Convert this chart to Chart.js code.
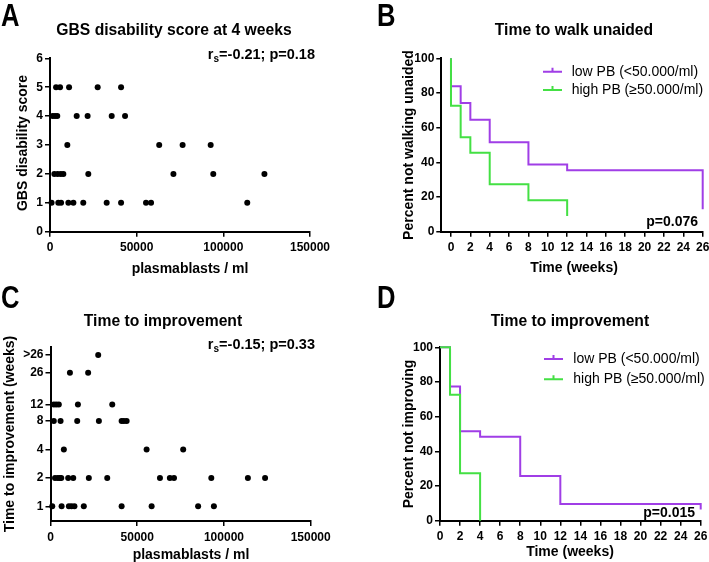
<!DOCTYPE html>
<html><head><meta charset="utf-8">
<script src="https://cdn.jsdelivr.net/npm/chart.js@4"></script>
<style>
html,body{margin:0;padding:0;background:#fff;}
#wrap{position:relative;width:709px;height:562px;overflow:hidden;}
canvas{position:absolute;left:0;top:0;width:709px;height:562px;}
</style></head><body>
<div id="wrap">
<canvas id="cA" width="709" height="562"></canvas>
<canvas id="cB" width="709" height="562"></canvas>
<canvas id="cC" width="709" height="562"></canvas>
<canvas id="cD" width="709" height="562"></canvas>
</div>
<script>
// ---------- data ----------
// Panel A: GBS disability score at 4 weeks vs plasmablasts/ml
const aPlasmablasts = [3500,5800,11000,27500,41000, 1500,2900,4200,15400,21700,35600,43300, 10000,63000,76500,92700, 2500,4400,6200,7700,22100,71200,94200,123700, 900,4800,6400,10600,13500,19200,32700,41000,55400,58300,113800];
const aScore        = [5,5,5,5,5, 4,4,4,4,4,4,4, 3,3,3,3, 2,2,2,2,2,2,2,2, 1,1,1,1,1,1,1,1,1,1,1];
const aXTicks = [0,50000,100000,150000];
const aYTicks = [0,1,2,3,4,5,6];

// Panel C: time to improvement (weeks) vs plasmablasts/ml  (">26" plotted at 40)
const cPlasmablasts = [27500, 11200,21700, 1900,3300,4800,15800,35600, 1900,5800,15400,27900,41000,42300,43900, 7700,55400,76500, 2600,4200,5400,6200,10200,13100,22100,32700,63100,68800,71200,92700,113800,123700, 1000,6400,10600,12100,13800,19200,41000,58300,85100,94200];
const cWeeks        = [40, 26,26, 12,12,12,12,12, 8,8,8,8,8,8,8, 4,4,4, 2,2,2,2,2,2,2,2,2,2,2,2,2,2, 1,1,1,1,1,1,1,1,1,1];
const cYTickValues = [1,2,4,8,12,26,40];
const cYTickLabels = ['1','2','4','8','12','26','>26'];

// Panels B and D: Kaplan-Meier curves
const weekTicks = [0,2,4,6,8,10,12,14,16,18,20,22,24,26];
const pctTicks = [0,20,40,60,80,100];
const legendLabels = ['low PB (<50.000/ml)', 'high PB (\u226550.000/ml)'];
const bLowTime  = [0,0,1,2,4,8,12,26];
const bLowPct   = [100,83.9,74.2,64.5,51.6,38.7,35.5,12.9];
const bHighTime = [0,0,1,2,4,8,12];
const bHighPct  = [100,72.7,54.5,45.5,27.3,18.2,9.1];
const dLowTime  = [0,1,2,4,8,12,26];
const dLowPct   = [100,77.4,51.6,48.4,25.8,9.7,6.5];
const dHighTime = [0,1,2,4];
const dHighPct  = [100,72.7,27.3,0];

// ---------- style ----------
const FF = '"Liberation Sans", Arial, Helvetica, sans-serif';
const PURPLE = '#a03ee6';
const GREEN = '#44e044';
Chart.defaults.font.family = FF;
Chart.defaults.color = '#000';
Chart.defaults.animation = false;
const W = 709, H = 562, YW = 40, XH = 30;

function pts(xs, ys){ return xs.map((x,i)=>({x:x, y:ys[i]})); }

function axis(type, min, max, tickVals, isX, labelFn){
  return {
    type: type, min: min, max: max, offset: false,
    border: {display: true, color: '#000', width: 2},
    grid: {display: true, drawOnChartArea: false, drawTicks: true, tickLength: 5, color: '#000', lineWidth: 1.5},
    ticks: {color: '#000', font: {size: 12, weight: 'bold', family: FF}, padding: isX ? 4 : 2,
            maxRotation: 0, minRotation: 0, autoSkip: false,
            callback: labelFn || function(v){ return String(v); }},
    afterBuildTicks: function(s){ s.ticks = tickVals.map(v=>({value: v})); },
    afterFit: function(s){
      if (isX) s.height = XH; else s.width = YW;
      s.paddingLeft = 0; s.paddingRight = 0; s.paddingTop = 0; s.paddingBottom = 0;
    }
  };
}

function padFor(l, t, r, b){
  return {left: l - YW, top: t, right: W - r, bottom: H - b - XH};
}

function txt(ctx, s, x, y, font, align, rot){
  ctx.save();
  ctx.fillStyle = '#000';
  ctx.font = font;
  ctx.textAlign = align || 'center';
  ctx.textBaseline = 'middle';
  ctx.translate(x, y);
  if (rot) ctx.rotate(rot);
  ctx.fillText(s, 0, 0);
  ctx.restore();
}
function letter(ctx, s, x, baseline){
  ctx.save();
  ctx.fillStyle = '#000';
  ctx.font = 'bold 32px ' + FF;
  ctx.textAlign = 'left';
  ctx.textBaseline = 'alphabetic';
  ctx.translate(x, baseline);
  ctx.scale(0.8, 1);
  ctx.fillText(s, 0, 0);
  ctx.restore();
}
function rsText(ctx, rightX, y, rest){
  ctx.save();
  ctx.fillStyle = '#000';
  ctx.textBaseline = 'middle';
  ctx.textAlign = 'left';
  const big = 'bold 14.5px ' + FF, small = 'bold 10px ' + FF;
  ctx.font = big; const wR = ctx.measureText('r').width; const wRest = ctx.measureText(rest).width;
  ctx.font = small; const wS = ctx.measureText('s').width;
  let x = rightX - wR - wS - wRest;
  ctx.font = big; ctx.fillText('r', x, y); x += wR;
  ctx.font = small; ctx.fillText('s', x, y + 4); x += wS;
  ctx.font = big; ctx.fillText(rest, x, y);
  ctx.restore();
}
function legendItem(ctx, x0, y, color, label, textX){
  ctx.save();
  ctx.strokeStyle = color; ctx.lineWidth = 2;
  ctx.beginPath();
  ctx.moveTo(x0, y); ctx.lineTo(x0 + 19, y);
  ctx.moveTo(x0 + 9.5, y - 4); ctx.lineTo(x0 + 9.5, y + 1);
  ctx.stroke();
  ctx.restore();
  txt(ctx, label, textX, y, '14px ' + FF, 'left');
}

function scatterChart(id, xs, ys, area, yAxis, texts){
  return new Chart(document.getElementById(id), {
    type: 'scatter',
    data: {datasets: [{data: pts(xs, ys), pointRadius: 3, pointHoverRadius: 3,
      backgroundColor: '#000', borderWidth: 0, clip: false}]},
    options: {
      responsive: false, animation: false,
      layout: {padding: padFor(area[0], area[1], area[2], area[3])},
      plugins: {legend: {display: false}, tooltip: {enabled: false}},
      scales: {x: axis('linear', 0, 150000, aXTicks, true), y: yAxis}
    },
    plugins: [{id: 'txt_' + id, afterDraw: function(c){ texts(c.ctx); }}]
  });
}

function kmChart(id, low, high, area, xmin, texts){
  return new Chart(document.getElementById(id), {
    type: 'line',
    data: {datasets: [
      {data: high, borderColor: GREEN, borderWidth: 2, pointRadius: 0, stepped: 'before', fill: false, clip: false},
      {data: low, borderColor: PURPLE, borderWidth: 2, pointRadius: 0, stepped: 'before', fill: false, clip: false}
    ]},
    options: {
      responsive: false, animation: false,
      layout: {padding: padFor(area[0], area[1], area[2], area[3])},
      plugins: {legend: {display: false}, tooltip: {enabled: false}},
      scales: {x: axis('linear', xmin, 26, weekTicks, true), y: axis('linear', 0, 100, pctTicks, false)}
    },
    plugins: [{id: 'txt_' + id, afterDraw: function(c){ texts(c.ctx); }}]
  });
}

// Panel A
scatterChart('cA', aPlasmablasts, aScore, [50, 58.3, 310, 231.7],
  axis('linear', 0, 6, aYTicks, false),
  function(ctx){
    letter(ctx, 'A', 1, 26);
    txt(ctx, 'GBS disability score at 4 weeks', 174, 31, 'bold 15.7px ' + FF);
    txt(ctx, 'GBS disability score', 23, 143, 'bold 14px ' + FF, 'center', -Math.PI/2);
    txt(ctx, 'plasmablasts / ml', 190, 269, 'bold 14px ' + FF);
    rsText(ctx, 315, 55, '=-0.21; p=0.18');
  });

// Panel B
kmChart('cB', pts(bLowTime, bLowPct), pts(bHighTime, bHighPct), [441.3, 58.3, 702.7, 231.7], -1,
  function(ctx){
    letter(ctx, 'B', 377, 26);
    txt(ctx, 'Time to walk unaided', 574, 31, 'bold 15.7px ' + FF);
    txt(ctx, 'Percent not walking unaided', 409, 145, 'bold 14px ' + FF, 'center', -Math.PI/2);
    txt(ctx, 'Time (weeks)', 574, 268, 'bold 14px ' + FF);
    legendItem(ctx, 543, 71.7, PURPLE, legendLabels[0], 571.7);
    legendItem(ctx, 543, 90, GREEN, legendLabels[1], 571.7);
    txt(ctx, 'p=0.076', 698, 222, 'bold 14px ' + FF, 'right');
  });

// Panel C
scatterChart('cC', cPlasmablasts, cWeeks, [50.5, 346.7, 310.7, 521],
  axis('logarithmic', 0.74, 49, cYTickValues, false, function(v){
    const i = cYTickValues.indexOf(v); return i >= 0 ? cYTickLabels[i] : '';
  }),
  function(ctx){
    letter(ctx, 'C', 1, 308);
    txt(ctx, 'Time to improvement', 163, 321.7, 'bold 15.7px ' + FF);
    txt(ctx, 'Time to improvement (weeks)', 10, 434, 'bold 14px ' + FF, 'center', -Math.PI/2);
    txt(ctx, 'plasmablasts / ml', 191, 555, 'bold 14px ' + FF);
    rsText(ctx, 315, 345, '=-0.15; p=0.33');
  });

// Panel D
kmChart('cD', pts(dLowTime, dLowPct), pts(dHighTime, dHighPct), [440, 347.3, 700.7, 520.7], 0,
  function(ctx){
    letter(ctx, 'D', 377, 308);
    txt(ctx, 'Time to improvement', 570, 321.7, 'bold 15.7px ' + FF);
    txt(ctx, 'Percent not improving', 409, 434, 'bold 14px ' + FF, 'center', -Math.PI/2);
    txt(ctx, 'Time (weeks)', 570, 551.7, 'bold 14px ' + FF);
    legendItem(ctx, 544, 359, PURPLE, legendLabels[0], 573.3);
    legendItem(ctx, 544, 379.3, GREEN, legendLabels[1], 573.3);
    txt(ctx, 'p=0.015', 695, 512.7, 'bold 14px ' + FF, 'right');
  });
</script>
</body></html>
